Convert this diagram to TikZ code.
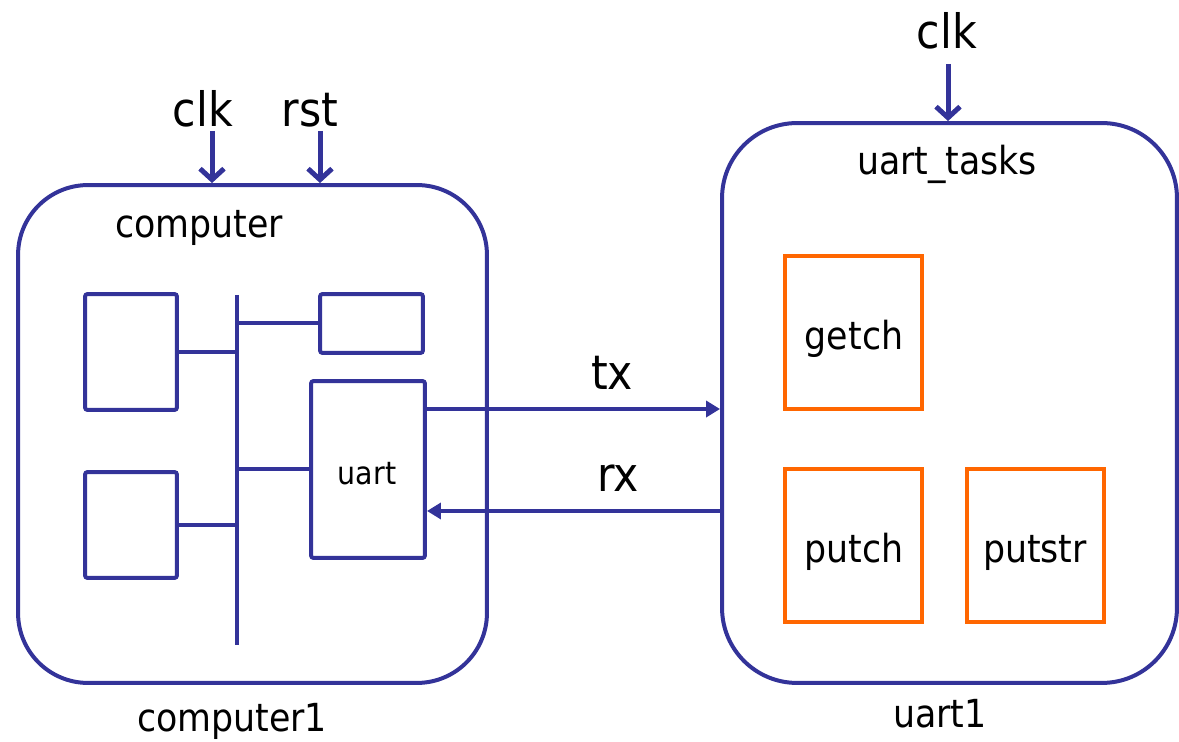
\documentclass[tikz,border=0pt]{standalone}
\usepackage{fontspec}
\setmainfont{DejaVu Sans Condensed}
\usetikzlibrary{arrows.meta}
\definecolor{wire}{RGB}{51,51,153}
\definecolor{task}{RGB}{255,102,0}
\tikzset{
  module/.style={draw=wire, line width=0.08cm, rectangle, inner sep=0pt},
  block/.style={draw=wire, line width=0.08cm, rectangle, rounded corners=1.5pt, inner sep=0pt},
  taskbox/.style={draw=task, line width=0.08cm, rectangle, inner sep=0pt,
    minimum width=2.74cm, minimum height=3.06cm},
  wireline/.style={draw=wire, line width=0.08cm},
  sig/.style={draw=wire, line width=0.1cm, -{Straight Barb[length=0.22cm,width=0.48cm]}},
  link/.style={draw=wire, line width=0.08cm, -{Triangle[length=0.28cm,width=0.32cm]}},
  lbl/.style={anchor=base, inner sep=0pt, text=black},
}
\begin{document}
\begin{tikzpicture}[x=0.02cm, y=-0.02cm]
\useasboundingbox (0,0) rectangle (1179,742);

% top-level modules
\node[module, rounded corners=1.4cm, minimum width=9.38cm, minimum height=9.96cm] (comp) at (252.5,434) {};
\node[module, rounded corners=1.5cm, minimum width=9.1cm, minimum height=11.2cm] (ut) at (949.5,403) {};

% module names
\node[lbl, font=\fontsize{22}{26}\selectfont] (compname) at (199,238) {computer};
\node[lbl, font=\fontsize{22}{26}\selectfont] (compinst) at (232,731) {computer1};
\node[lbl, font=\fontsize{22}{26}\selectfont] (utname) at (947,175) {uart\_tasks};
\node[lbl, font=\fontsize{22}{26}\selectfont] (utinst) at (940,727) {uart1};

% clock and reset inputs
\node[lbl, font=\fontsize{27}{32}\selectfont] (clkA) at (203,127) {clk};
\node[lbl, font=\fontsize{27}{32}\selectfont] (rstA) at (310,127) {rst};
\node[lbl, font=\fontsize{27}{32}\selectfont] (clkB) at (947,49) {clk};
\coordinate (clkAin) at (212,131);
\coordinate (rstAin) at (320,131);
\coordinate (clkBin) at (948,64);
\draw[sig] (clkAin) -- (clkAin |- comp.north);
\draw[sig] (rstAin) -- (rstAin |- comp.north);
\draw[sig] (clkBin) -- (clkBin |- ut.north);

% computer internals: bus and attached blocks
\coordinate (busTop) at (237,295);
\coordinate (busBot) at (237,645);
\draw[wireline] (busTop) -- (busBot);
\node[block, minimum width=1.84cm, minimum height=2.32cm] (b1) at (131,352) {};
\node[block, minimum width=1.84cm, minimum height=2.12cm] (b2) at (131,525) {};
\node[block, minimum width=2.06cm, minimum height=1.18cm] (b3) at (371.5,323.5) {};
\node[block, minimum width=2.28cm, minimum height=3.54cm] (uart) at (368,469.5) {};
\node[lbl, font=\fontsize{18}{22}\selectfont] (uartname) at (367,485) {uart};
\draw[wireline] (b1.east) -- (b1.east -| busTop);
\draw[wireline] (b2.east) -- (b2.east -| busTop);
\draw[wireline] (b3.west) -- (b3.west -| busTop);
\draw[wireline] (uart.west) -- (uart.west -| busTop);

% serial lines
\draw[link] ([yshift=1.21cm]uart.east) -- ([yshift=1.21cm]uart.east -| ut.west);
\draw[link] ([yshift=-0.83cm]uart.east -| ut.west) -- ([yshift=-0.83cm]uart.east);
\node[lbl, font=\fontsize{27}{32}\selectfont] (tx) at (612,390) {tx};
\node[lbl, font=\fontsize{27}{32}\selectfont] (rx) at (618,492) {rx};

% tasks
\node[taskbox] (getch) at (853.5,332.5) {};
\node[taskbox] (putch) at (853.5,545.5) {};
\node[taskbox] (putstr) at (1035.5,545.5) {};
\node[lbl, font=\fontsize{22}{26}\selectfont] at (854,350) {getch};
\node[lbl, font=\fontsize{22}{26}\selectfont] at (854,562) {putch};
\node[lbl, font=\fontsize{22}{26}\selectfont] at (1035,562) {putstr};
\end{tikzpicture}
\end{document}
